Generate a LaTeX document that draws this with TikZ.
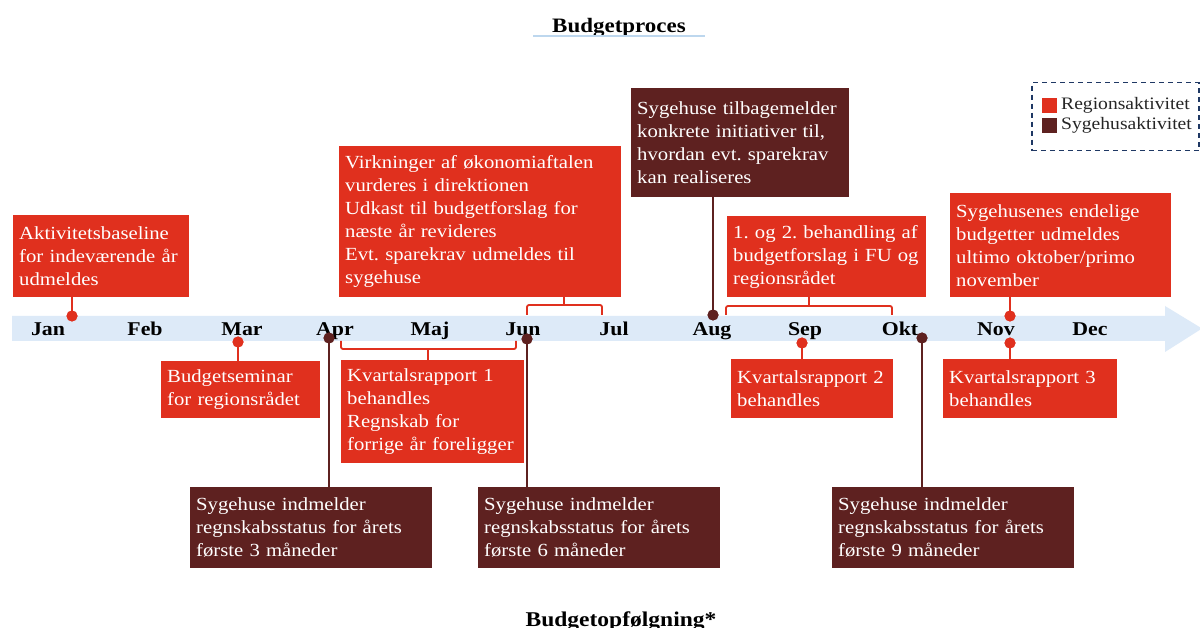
\documentclass[tikz,border=0pt]{standalone}
\usepackage{fontspec}
\setmainfont[FakeStretch=1.12]{Liberation Serif}
\usetikzlibrary{calc}
\definecolor{regred}{HTML}{E0301E}
\definecolor{hospdark}{HTML}{5E2120}
\definecolor{band}{HTML}{DDEAF8}
\definecolor{navy}{HTML}{1F3864}
\definecolor{uline}{HTML}{BDD7EE}
\frenchspacing

\begin{document}
\begin{tikzpicture}[x=1pt,y=-1pt,
  box/.style={anchor=north west, inner xsep=6pt, inner ysep=0pt, align=left,
    text=white, font=\fontsize{18.5}{23}\selectfont},
  regbox/.style={box, fill=regred},
  hospbox/.style={box, fill=hospdark},
  month/.style={font=\bfseries\fontsize{19.5}{20}\selectfont, anchor=base},
  heading/.style={font=\bfseries\fontsize{20.5}{22}\selectfont, anchor=base},
  rdot/.style={circle, fill=regred, minimum size=11pt, inner sep=0pt},
  ddot/.style={circle, fill=hospdark, minimum size=11pt, inner sep=0pt},
  rline/.style={draw=regred, line width=1.8pt},
  dline/.style={draw=hospdark, line width=1.8pt},
  brace/.style={rline, rounded corners=2pt},
  keybox/.style={minimum size=15pt, inner sep=0pt, anchor=north west},
  keytext/.style={anchor=west, inner sep=0pt, font=\fontsize{17.5}{19}\selectfont, text=black!85},
]
\useasboundingbox (0,0) rectangle (1200,628);
\fill[white] (0,0) rectangle (1200,628);

% heading
\node[heading] (title) at (619,32.5) {Budgetproces};
\draw[uline, line width=2pt] (533,36.5) -- (705,36.5);

% legend
\node[draw=navy, dashed, dash pattern=on 5pt off 4pt, line width=1.5pt,
  minimum width=167pt, minimum height=68pt, anchor=north west] (legend) at (1031,82) {};
\node[keybox, fill=regred] (keyreg) at (1042,97.5) {};
\node[keybox, fill=hospdark] (keyhosp) at (1042,118) {};
\node[keytext] (keyregt) at (1061,105) {Regionsaktivitet};
\node[keytext] (keyhospt) at (1061,125.5) {Sygehusaktivitet};

% timeline band
\fill[band] (12,316) -- (1165,316) -- (1165,306) -- (1202,328.5) -- (1165,352)
  -- (1165,341) -- (12,341) -- cycle;

% months
\node[month] (jan) at (48,336) {Jan};
\node[month] (feb) at (145,336) {Feb};
\node[month] (mar) at (242,336) {Mar};
\node[month] (apr) at (335,336) {Apr};
\node[month] (maj) at (430,336) {Maj};
\node[month] (jun) at (523,336) {Jun};
\node[month] (jul) at (614,336) {Jul};
\node[month] (aug) at (712,336) {Aug};
\node[month] (sep) at (805,336) {Sep};
\node[month] (okt) at (900,336) {Okt};
\node[month] (nov) at (996,336) {Nov};
\node[month] (dec) at (1090,336) {Dec};

% activity boxes
\node[regbox, text width=164pt, minimum height=82pt] (aktiv) at (13,215)
  {Aktivitetsbaseline\\for indeværende år\\udmeldes};
\node[regbox, text width=147pt, minimum height=57pt] (seminar) at (161,361)
  {Budgetseminar\\for regionsrådet};
\node[regbox, text width=270pt, minimum height=151pt] (virk) at (339,146)
  {Virkninger af økonomiaftalen\\vurderes i direktionen\\Udkast til budgetforslag for\\næste år revideres\\Evt. sparekrav udmeldes til\\sygehuse};
\node[regbox, text width=171pt, minimum height=103pt] (kv1) at (341,360)
  {Kvartalsrapport 1\\behandles\\Regnskab for\\forrige år foreligger};
\node[hospbox, text width=230pt, minimum height=81pt] (syg3) at (190,487)
  {Sygehuse indmelder\\regnskabsstatus for årets\\første 3 måneder};
\node[hospbox, text width=230pt, minimum height=81pt] (syg6) at (478,487)
  {Sygehuse indmelder\\regnskabsstatus for årets\\første 6 måneder};
\node[hospbox, text width=206pt, minimum height=109pt] (tilb) at (631,88)
  {Sygehuse tilbagemelder\\konkrete initiativer til,\\hvordan evt. sparekrav\\kan realiseres};
\node[regbox, text width=187pt, minimum height=81pt] (behand) at (727,216)
  {1. og 2. behandling af\\budgetforslag i FU og\\regionsrådet};
\node[regbox, text width=150pt, minimum height=59pt] (kv2) at (731,359)
  {Kvartalsrapport 2\\behandles};
\node[hospbox, text width=230pt, minimum height=81pt] (syg9) at (832,487)
  {Sygehuse indmelder\\regnskabsstatus for årets\\første 9 måneder};
\node[regbox, text width=209pt, minimum height=104pt] (endel) at (950,193)
  {Sygehusenes endelige\\budgetter udmeldes\\ultimo oktober/primo\\november};
\node[regbox, text width=162pt, minimum height=59pt] (kv3) at (943,359)
  {Kvartalsrapport 3\\behandles};

% markers on the band
\node[rdot] (dJan) at (72,316) {};
\node[rdot] (dMar) at (238,342) {};
\node[ddot] (dApr) at (329,338) {};
\node[ddot] (dJun) at (527,339) {};
\node[ddot] (dAug) at (713,315) {};
\node[rdot] (dSep) at (802,343) {};
\node[ddot] (dOkt) at (922,338) {};
\node[rdot] (dNovA) at (1010,316) {};
\node[rdot] (dNovB) at (1010,343) {};

% connectors from markers to boxes
\draw[rline] (aktiv.south -| dJan) -- (dJan.center);
\draw[rline] (dMar.center) -- (seminar.north -| dMar);
\draw[dline] (dApr.center) -- (syg3.north -| dApr);
\draw[dline] (dJun.center) -- (syg6.north -| dJun);
\draw[dline] (tilb.south -| dAug) -- (dAug.center);
\draw[rline] (dSep.center) -- (kv2.north -| dSep);
\draw[dline] (dOkt.center) -- (syg9.north -| dOkt);
\draw[rline] (endel.south -| dNovA) -- (dNovA.center);
\draw[rline] (dNovB.center) -- (kv3.north -| dNovB);

% brackets spanning several months
\coordinate (b1l) at (527,315);
\coordinate (b1r) at (602,315);
\coordinate (b1m) at (564,305);
\draw[brace] (b1l) |- (b1m) -| (b1r);
\draw[rline] (b1m) -- (virk.south -| b1m);

\coordinate (b2l) at (341,341);
\coordinate (b2r) at (516,341);
\coordinate (b2m) at (428,349);
\draw[brace] (b2l) |- (b2m) -| (b2r);
\draw[rline] (b2m) -- (kv1.north -| b2m);

\coordinate (b3l) at (726,315);
\coordinate (b3r) at (892,315);
\coordinate (b3m) at (809,306);
\draw[brace] (b3l) |- (b3m) -| (b3r);
\draw[rline] (b3m) -- (behand.south -| b3m);

% redraw markers above their connectors
\foreach \d/\c in {dJan/regred,dMar/regred,dApr/hospdark,dJun/hospdark,dAug/hospdark,dSep/regred,dOkt/hospdark,dNovA/regred,dNovB/regred}
  \fill[\c] (\d) circle (5.5pt);

% follow-up heading
\node[heading, font=\bfseries\fontsize{21}{22}\selectfont] (follow) at (621,626) {Budgetopfølgning*};
\end{tikzpicture}
\end{document}
